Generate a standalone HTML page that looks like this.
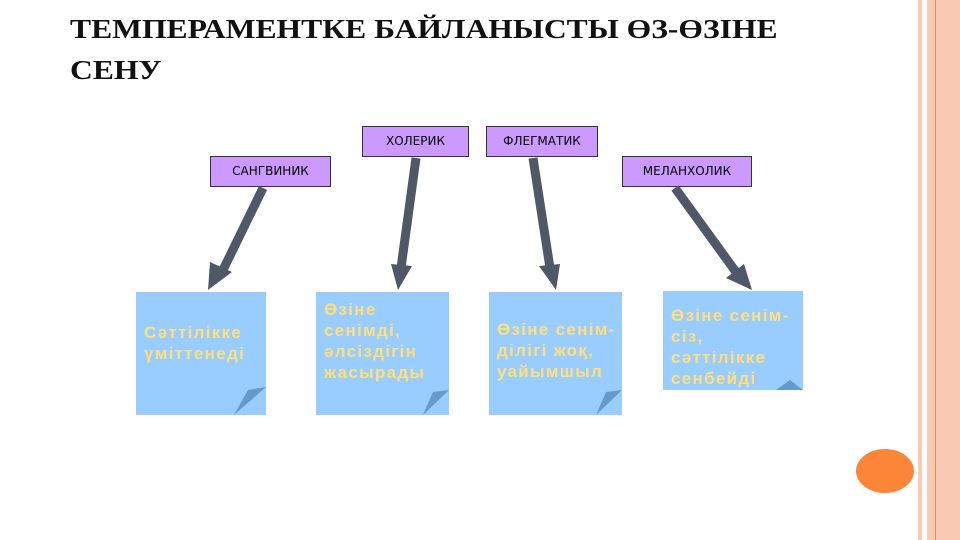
<!DOCTYPE html>
<html><head><meta charset="utf-8"><style>
body{margin:0;width:960px;height:540px;background:#fff;position:relative;overflow:hidden;font-family:"Liberation Sans","DejaVu Sans",sans-serif}
.t{position:absolute;left:70px;top:9px;font-family:"Liberation Serif",serif;font-weight:bold;font-size:27px;line-height:41px;color:#111;white-space:nowrap;transform:scaleX(1.17);transform-origin:0 0}
.l{position:absolute;background:#cc99ff;border:1px solid #333;font-family:"DejaVu Sans",sans-serif;font-size:12px;text-align:center;line-height:29px;height:29px}
.b{position:absolute;background:#99ccff;color:#ffe07a;font-family:"Liberation Sans",sans-serif;font-weight:bold;font-size:17px;letter-spacing:1.3px;line-height:21px;overflow:hidden;padding-left:8px;box-sizing:border-box;white-space:nowrap}
</style></head><body>
<div style="position:absolute;left:918px;top:0;width:4px;height:540px;background:#fbcab5"></div>
<div style="position:absolute;left:927px;top:0;width:33px;height:540px;background:#fbcab5"></div>
<div style="position:absolute;left:935px;top:0;width:1px;height:540px;background:#f08a4a"></div>
<div style="position:absolute;left:856px;top:449px;width:58px;height:44px;border-radius:50%;background:#fd8537"></div>
<div class="t">ТЕМПЕРАМЕНТКЕ БАЙЛАНЫСТЫ ӨЗ-ӨЗІНЕ<br>СЕНУ</div>
<div class="l" style="left:210px;top:156px;width:119px">САНГВИНИК</div>
<div class="l" style="left:362px;top:126px;width:105px">ХОЛЕРИК</div>
<div class="l" style="left:486px;top:126px;width:110px">ФЛЕГМАТИК</div>
<div class="l" style="left:622px;top:156px;width:128px">МЕЛАНХОЛИК</div>
<svg width="960" height="540" style="position:absolute;left:0;top:0">
<g stroke="#4e5866" stroke-width="9" fill="#4e5866">
<line x1="263" y1="188" x2="222" y2="272"/>
<line x1="416" y1="158" x2="401" y2="268"/>
<line x1="533" y1="158" x2="550" y2="268"/>
<line x1="675" y1="188" x2="736" y2="272"/>
</g>
<g fill="#4e5866">
<polygon points="208,290 210,262 232,272"/>
<polygon points="398,290 391,264 412,266"/>
<polygon points="556,290 539,266 560,264"/>
<polygon points="752,290 726,278 744,264"/>
</g>
</svg>
<div class="b" style="left:136px;top:292px;width:130px;height:123px;padding-top:30px">Сәттілікке<br>үміттенеді</div>
<div class="b" style="left:316px;top:292px;width:133px;height:123px;padding-top:7px">Өзіне<br>сенімді,<br>әлсіздігін<br>жасырады</div>
<div class="b" style="left:489px;top:292px;width:133px;height:123px;padding-top:27px">Өзіне сенім-<br>ділігі жоқ,<br>уайымшыл</div>
<div class="b" style="left:663px;top:291px;width:140px;height:99px;padding-top:14px">Өзіне сенім-<br>сіз,<br>сәттілікке<br>сенбейді</div>
<svg width="960" height="540" style="position:absolute;left:0;top:0">
<polygon points="234,415 266,387 248,390" fill="#6699cc"/>
<polygon points="423,415 449,390 433,392" fill="#6699cc"/>
<polygon points="596,415 622,390 606,392" fill="#6699cc"/>
<polygon points="776,390 803,390 790,380" fill="#6699cc"/>
</svg>
</body></html>
